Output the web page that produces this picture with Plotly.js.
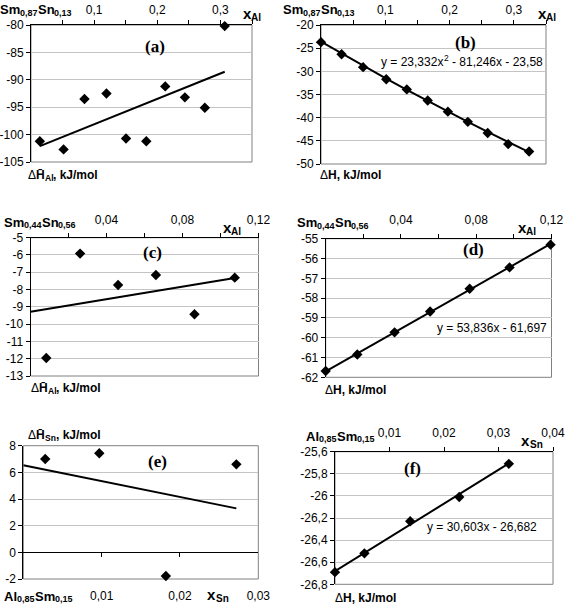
<!DOCTYPE html>
<html><head><meta charset="utf-8">
<script src="https://cdn.plot.ly/plotly-3.0.1.min.js"></script>
<style>html,body{margin:0;padding:0;background:#fff}#chart{width:566px;height:605px}</style>
</head><body><div id="chart"></div>
<script>
// ---------- data ----------
const xA = [0.014, 0.0516, 0.0847, 0.1195, 0.1505, 0.1826, 0.2126, 0.2437, 0.2753, 0.3068];
const yA = [-101.2, -102.7, -93.5, -92.5, -100.7, -101.2, -91.2, -93.2, -95.1, -80.2];

const xB = [0, 0.032, 0.0655, 0.1015, 0.1335, 0.166, 0.1974, 0.2284, 0.2593, 0.2912, 0.3237];
const yB = [-23.7, -26.3, -29.1, -31.7, -33.9, -36.3, -38.7, -40.9, -43.3, -45.7, -47.3];
const fitB = [23.332, -81.246, -23.58];   // y = a x^2 + b x + c

const xC = [0.0083, 0.0261, 0.0461, 0.066, 0.0863, 0.1075];
const yC = [-11.96, -5.92, -7.74, -7.16, -9.43, -7.31];

const xD = [0, 0.0168, 0.0366, 0.0555, 0.0765, 0.0977, 0.1195];
const yD = [-61.68, -60.85, -59.73, -58.68, -57.53, -56.45, -55.3];
const fitD = [53.836, -61.697];

const xE = [0.0028, 0.0097, 0.0182, 0.0272];
const yE = [7.0, 7.43, -1.78, 6.6];

const xF = [0, 0.0054, 0.0138, 0.0228, 0.0319];
const yF = [-26.69, -26.52, -26.23, -26.01, -25.71];
const fitF = [30.603, -26.682];

// ---------- tick values / labels ----------
const xTickAB = [0.1, 0.2, 0.3];
const xLabAB  = ['0,1', '0,2', '0,3'];
const xMinorAB = [0.05, 0.15, 0.25, 0.35];
const xTickCD = [0.04, 0.08, 0.12];
const xLabCD  = ['0,04', '0,08', '0,12'];
const xMinorCD = [0.02, 0.06, 0.1];
const xTickE  = [0.01, 0.02, 0.03];
const xLabE   = ['0,01', '0,02', '0,03'];
const xTickF  = [0.01, 0.02, 0.03, 0.04];
const xLabF   = ['0,01', '0,02', '0,03', '0,04'];

const yTickA = [-105, -100, -95, -90, -85, -80];
const yLabA  = ['-105', '-100', '-95', '-90', '-85', '-80'];
const yTickB = [-50, -45, -40, -35, -30, -25, -20];
const yLabB  = ['-50', '-45', '-40', '-35', '-30', '-25', '-20'];
const yTickC = [-13, -12, -11, -10, -9, -8, -7, -6, -5];
const yLabC  = ['-13', '-12', '-11', '-10', '-9', '-8', '-7', '-6', '-5'];
const yTickD = [-62, -61, -60, -59, -58, -57, -56, -55];
const yLabD  = ['-62', '-61', '-60', '-59', '-58', '-57', '-56', '-55'];
const yTickE = [-2, 0, 2, 4, 6, 8];
const yLabE  = ['-2', '0', '2', '4', '6', '8'];
const yTickF = [-26.8, -26.6, -26.4, -26.2, -26, -25.8, -25.6];
const yLabF  = ['-26,8', '-26,6', '-26,4', '-26,2', '-26', '-25,8', '-25,6'];

// ---------- helpers ----------
const W = 566, H = 605;
const FONT = 'Liberation Sans, Arial, sans-serif';
const SERIF = 'Liberation Serif, Times New Roman, serif';

function linfit(xs, ys) {
  const n = xs.length;
  const mx = xs.reduce((s, v) => s + v, 0) / n;
  const my = ys.reduce((s, v) => s + v, 0) / n;
  let sxy = 0, sxx = 0;
  for (let i = 0; i < n; i++) { sxy += (xs[i] - mx) * (ys[i] - my); sxx += (xs[i] - mx) ** 2; }
  const k = sxy / sxx;
  return [k, my - k * mx];
}
const last = a => a[a.length - 1];

const mk = {symbol: 'diamond', size: 8, color: '#000'};
const ln = {color: '#000', width: 2};
function pts(x, y, n) {
  return {type: 'scatter', mode: 'markers', x, y, xaxis: 'x' + n, yaxis: 'y' + n, marker: mk, cliponaxis: false, hoverinfo: 'skip'};
}
function line(x, y, n) {
  return {type: 'scatter', mode: 'lines', x, y, xaxis: 'x' + n, yaxis: 'y' + n, line: ln, cliponaxis: false, hoverinfo: 'skip'};
}

const traces = [];
// (a)
const fA = linfit(xA, yA);
const tAx = [xA[0], last(xA)];
traces.push(line(tAx, tAx.map(v => fA[0] * v + fA[1]), ''));
traces.push(pts(xA, yA, ''));
// (b)
traces.push(line(xB, xB.map(v => fitB[0] * v * v + fitB[1] * v + fitB[2]), '2'));
traces.push(pts(xB, yB, '2'));
// (c)
const fC = linfit(xC, yC);
const tCx = [0, last(xC)];
traces.push(line(tCx, tCx.map(v => fC[0] * v + fC[1]), '3'));
traces.push(pts(xC, yC, '3'));
// (d)
const tDx = [xD[0], last(xD)];
traces.push(line(tDx, tDx.map(v => fitD[0] * v + fitD[1]), '4'));
traces.push(pts(xD, yD, '4'));
// (e)
const fE = linfit(xE, yE);
const tEx = [0, last(xE)];
traces.push(line(tEx, tEx.map(v => fE[0] * v + fE[1]), '5'));
traces.push(pts(xE, yE, '5'));
traces.push({type: 'scatter', mode: 'markers', x: [], y: [], xaxis: 'x7', yaxis: 'y5', hoverinfo: 'skip'});
// (f)
const tFx = [xF[0], last(xF)];
traces.push(line(tFx, tFx.map(v => fitF[0] * v + fitF[1]), '6'));
traces.push(pts(xF, yF, '6'));

// ---------- layout ----------
const boxes = [
  {x: [31, 252], y: [25, 162], xr: [0, 0.35], yr: [-105, -80], xt: xTickAB, xl: xLabAB, xm: xMinorAB, yt: yTickA, yl: yLabA, so: 1},
  {x: [321, 546], y: [25, 164], xr: [0, 0.35], yr: [-50, -20], xt: xTickAB, xl: xLabAB, xm: xMinorAB, yt: yTickB, yl: yLabB, so: 1},
  {x: [30.5, 258.5], y: [237.7, 376], xr: [0, 0.12], yr: [-13, -5], xt: xTickCD, xl: xLabCD, xm: xMinorCD, yt: yTickC, yl: yLabC, so: 4},
  {x: [325.7, 551.5], y: [238.7, 377.3], xr: [0, 0.12], yr: [-62, -55], xt: xTickCD, xl: xLabCD, xm: xMinorCD, yt: yTickD, yl: yLabD, so: 5},
  {x: [23.3, 258.3], y: [445.7, 579], xr: [0, 0.03], yr: [-2, 8], xt: xTickE, xl: xLabE, xm: null, yt: yTickE, yl: yLabE, so: 8},
  {x: [335, 553], y: [451.7, 584.3], xr: [0, 0.04], yr: [-26.8, -25.6], xt: xTickF, xl: xLabF, xm: null, yt: yTickF, yl: yLabF, so: 5}
];
const tickfont = {family: FONT, size: 12, color: '#000'};
const layout = {
  width: W, height: H, margin: {l: 0, r: 0, t: 0, b: 0},
  paper_bgcolor: '#fff', plot_bgcolor: '#fff', showlegend: false, hovermode: false,
  font: {family: FONT, size: 12, color: '#000'},
  shapes: [], annotations: []
};
boxes.forEach((b, i) => {
  const n = i === 0 ? '' : String(i + 1);
  const xd = [b.x[0] / W, b.x[1] / W];
  const yd = [1 - b.y[1] / H, 1 - b.y[0] / H];
  const isE = (i === 4);
  const xa = {
    domain: xd, range: b.xr, anchor: 'y' + n, side: isE ? 'bottom' : 'top',
    tickmode: 'array', tickvals: b.xt, ticktext: b.xl,
    ticks: isE ? '' : 'outside', ticklen: 4, tickcolor: '#000', tickwidth: 1,
    ticklabelstandoff: b.so,
    showline: !isE, linecolor: '#000', linewidth: 1,
    showgrid: false, zeroline: false, tickfont, fixedrange: true
  };
  if (b.xm) {
    xa.minor = {tickmode: 'array', tickvals: b.xm, ticks: 'outside', ticklen: 4, tickcolor: '#000', tickwidth: 1, showgrid: false};
  }
  layout['xaxis' + n] = xa;
  layout['yaxis' + n] = {
    domain: yd, range: b.yr, anchor: 'x' + n,
    tickmode: 'array', tickvals: b.yt, ticktext: b.yl,
    ticks: 'outside', ticklen: 4, tickcolor: '#000', tickwidth: 1,
    showline: true, linecolor: '#000', linewidth: 1,
    showgrid: true, gridcolor: '#c4c4c4', gridwidth: 1,
    zeroline: false, tickfont, fixedrange: true
  };
  layout.shapes.push({type: 'rect', xref: 'x' + n + ' domain', yref: 'y' + n + ' domain',
    x0: 0, x1: 1, y0: 0, y1: 1, line: {color: '#808080', width: 1}, layer: 'below'});
  if (isE) {
    const frac = (0 - b.yr[0]) / (b.yr[1] - b.yr[0]);
    layout.xaxis7 = {
      overlaying: 'x5', anchor: 'free', position: yd[0] + frac * (yd[1] - yd[0]),
      range: b.xr, side: 'bottom', tickmode: 'array', tickvals: [0.01, 0.02],
      ticks: 'outside', ticklen: 4, tickcolor: '#000', showticklabels: false,
      showline: true, linecolor: '#000', linewidth: 1, showgrid: false, zeroline: false, fixedrange: true
    };
  }
});

// ---------- text: each run of a rich label is its own annotation ----------
const ctx = document.createElement('canvas').getContext('2d');
function tw(t, size, bold, fam) {
  ctx.font = (bold ? 'bold ' : '') + size + 'px ' + fam;
  return ctx.measureText(t).width;
}
// segment: [text, size, bold, dy(px, + = down), gapBefore(bool)]
function rich(segs, px, py, anchor, fam) {
  fam = fam || FONT;
  const sp = segs.map(s => s[4] ? tw(' ', s[1], s[2], fam) : 0);
  const ws = segs.map(s => tw(s[0], s[1], s[2], fam));
  const total = ws.reduce((a, v) => a + v, 0) + sp.reduce((a, v) => a + v, 0);
  let x = anchor === 'center' ? px - total / 2 : px;
  segs.forEach((s, i) => {
    x += sp[i];
    layout.annotations.push({
      text: s[0], x: x / W, y: 1 - (py + (s[3] || 0)) / H, xref: 'paper', yref: 'paper',
      xanchor: 'left', yanchor: 'middle', showarrow: false, borderpad: 0, borderwidth: 0,
      font: {size: s[1], family: fam, color: '#000', weight: s[2] ? 700 : 400}
    });
    x += ws[i];
  });
}
const HB = 'H\u0304';
const comp = (a, s1, b, s2) => [[a, 13, true, 0], [s1, 9, true, 3], [b, 13, true, 0], [s2, 9, true, 3]];
const xLab = sub => [['x', 15, true, 0], [sub, 10, true, 4]];
const dHbar = sub => [['\u0394', 12, false, 0], [HB, 12, true, 0], [sub, 8.5, true, 3], [', kJ/mol', 12, true, 0]];
const dH = [['\u0394', 12, false, 0], ['H, kJ/mol', 12, true, 0]];
function plain(t, px, py, size, fam, bold) { rich([[t, size, bold, 0]], px, py, 'center', fam); }

// (a)
rich(comp('Sm', '0,87', 'Sn', '0,13'), 0, 10, 'left');
rich(xLab('Al'), 252, 14, 'center');
plain('(a)', 155, 46, 17, SERIF, true);
rich(dHbar('Al'), 28, 175, 'left');
// (b)
rich(comp('Sm', '0,87', 'Sn', '0,13'), 283, 10, 'left');
rich(xLab('Al'), 547, 14, 'center');
plain('(b)', 465, 43, 17, SERIF, true);
rich([['y = 23,332x', 12, false, 0], ['2', 8.5, false, -4], ['- 81,246x - 23,58', 12, false, 0, true]], 462, 62, 'center');
rich(dH, 320, 175, 'left');
// (c)
rich(comp('Sm', '0,44', 'Sn', '0,56'), 4, 222, 'left');
rich(xLab('Al'), 232, 228, 'center');
plain('(c)', 152, 252, 17, SERIF, true);
rich(dHbar('Al'), 31, 388, 'left');
// (d)
rich(comp('Sm', '0,44', 'Sn', '0,56'), 297, 223, 'left');
rich(xLab('Al'), 527, 228, 'center');
plain('(d)', 473, 250, 17, SERIF, true);
plain('y = 53,836x - 61,697', 492, 328, 12, FONT, false);
rich(dH, 325, 390, 'left');
// (e)
rich(dHbar('Sn'), 28, 435, 'left');
plain('(e)', 157, 461, 17, SERIF, true);
rich(comp('Al', '0,85', 'Sm', '0,15'), 4, 596, 'left');
rich(xLab('Sn'), 218, 594, 'center');
// (f)
rich(comp('Al', '0,85', 'Sm', '0,15'), 306, 436, 'left');
rich(xLab('Sn'), 532, 440, 'center');
plain('(f)', 412, 468, 17, SERIF, true);
plain('y = 30,603x - 26,682', 482, 527, 12, FONT, false);
rich(dH, 335, 598, 'left');

Plotly.newPlot('chart', traces, layout, {staticPlot: true, displayModeBar: false});
</script></body></html>
